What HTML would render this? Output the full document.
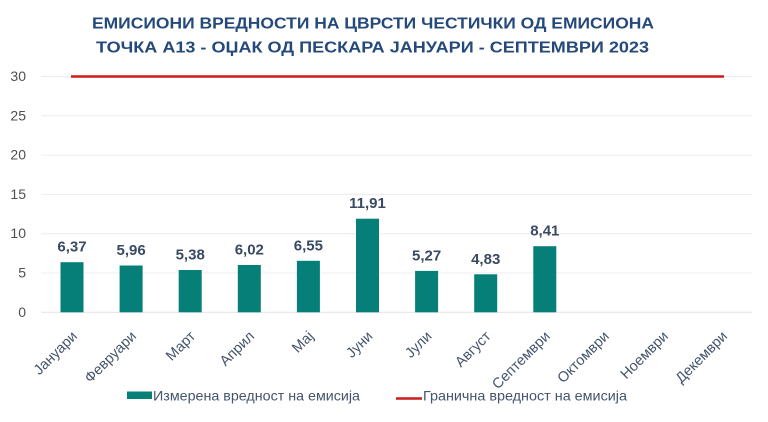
<!DOCTYPE html>
<html>
<head>
<meta charset="utf-8">
<style>
  html, body { margin: 0; padding: 0; background: #ffffff; }
  svg { display: block; }
  text { font-family: "Liberation Sans", "DejaVu Sans", sans-serif; }
</style>
</head>
<body>
<svg width="768" height="422" viewBox="0 0 768 422" xmlns="http://www.w3.org/2000/svg">
  <rect x="0" y="0" width="768" height="422" fill="#ffffff"/>

  <!-- Title -->
  <text x="373" y="28.5" text-anchor="middle" font-size="15.5" font-weight="bold" fill="#24497a" textLength="562" lengthAdjust="spacingAndGlyphs">ЕМИСИОНИ ВРЕДНОСТИ НА ЦВРСТИ ЧЕСТИЧКИ ОД ЕМИСИОНА</text>
  <text x="372.5" y="52.5" text-anchor="middle" font-size="15.5" font-weight="bold" fill="#24497a" textLength="553" lengthAdjust="spacingAndGlyphs">ТОЧКА А13 - ОЏАК ОД ПЕСКАРА ЈАНУАРИ - СЕПТЕМВРИ 2023</text>

  <!-- Gridlines -->
  <g stroke="#ececec" stroke-width="1">
    <line x1="41" y1="76.5" x2="752" y2="76.5"/>
    <line x1="41" y1="115.8" x2="752" y2="115.8"/>
    <line x1="41" y1="155.1" x2="752" y2="155.1"/>
    <line x1="41" y1="194.4" x2="752" y2="194.4"/>
    <line x1="41" y1="233.7" x2="752" y2="233.7"/>
    <line x1="41" y1="273" x2="752" y2="273"/>
  </g>
  <line x1="41" y1="312.3" x2="752" y2="312.3" stroke="#e2e2e2" stroke-width="1"/>

  <!-- Y axis labels -->
  <g font-size="14" fill="#505050" text-anchor="end">
    <text x="26" y="81">30</text>
    <text x="26" y="120.3">25</text>
    <text x="26" y="159.6">20</text>
    <text x="26" y="198.9">15</text>
    <text x="26" y="238.2">10</text>
    <text x="26" y="277.5">5</text>
    <text x="26" y="316.8">0</text>
  </g>

  <!-- Bars -->
  <g fill="#067f79">
    <rect x="60.5" y="262.2" width="23" height="50.1"/>
    <rect x="119.6" y="265.5" width="23" height="46.8"/>
    <rect x="178.7" y="270.0" width="23" height="42.3"/>
    <rect x="237.8" y="265.0" width="23" height="47.3"/>
    <rect x="296.9" y="260.8" width="23" height="51.5"/>
    <rect x="356.0" y="218.7" width="23" height="93.6"/>
    <rect x="415.1" y="270.9" width="23" height="41.4"/>
    <rect x="474.2" y="274.3" width="23" height="38.0"/>
    <rect x="533.3" y="246.2" width="23" height="66.1"/>
  </g>

  <!-- Limit line -->
  <line x1="71" y1="76.5" x2="724" y2="76.5" stroke="#cc1c1c" stroke-width="2.5"/>

  <!-- Value labels -->
  <g font-size="15" font-weight="bold" fill="#3a4a62" text-anchor="middle">
    <text x="72" y="251.7">6,37</text>
    <text x="131.1" y="255">5,96</text>
    <text x="190.2" y="259.5">5,38</text>
    <text x="249.3" y="254.5">6,02</text>
    <text x="308.4" y="250.3">6,55</text>
    <text x="367.5" y="208.2">11,91</text>
    <text x="426.6" y="260.4">5,27</text>
    <text x="485.7" y="263.8">4,83</text>
    <text x="544.8" y="235.7">8,41</text>
  </g>

  <!-- X axis labels -->
  <g font-size="14.5" fill="#44546a" text-anchor="end">
    <text transform="translate(78,337) rotate(-45)">Јануари</text>
    <text transform="translate(137.1,337) rotate(-45)">Февруари</text>
    <text transform="translate(196.2,337) rotate(-45)">Март</text>
    <text transform="translate(255.3,337) rotate(-45)">Април</text>
    <text transform="translate(314.4,337) rotate(-45)">Мај</text>
    <text transform="translate(373.5,337) rotate(-45)">Јуни</text>
    <text transform="translate(432.6,337) rotate(-45)">Јули</text>
    <text transform="translate(491.7,337) rotate(-45)">Август</text>
    <text transform="translate(550.8,337) rotate(-45)">Септември</text>
    <text transform="translate(609.9,337) rotate(-45)">Октомври</text>
    <text transform="translate(669,337) rotate(-45)">Ноември</text>
    <text transform="translate(728.1,337) rotate(-45)">Декември</text>
  </g>

  <!-- Legend -->
  <rect x="127" y="391.5" width="25" height="7.5" fill="#067f79"/>
  <text x="153" y="400.5" font-size="14" fill="#44546a" textLength="207" lengthAdjust="spacingAndGlyphs">Измерена вредност на емисија</text>
  <line x1="396" y1="398.5" x2="422" y2="398.5" stroke="#cc1c1c" stroke-width="2.5"/>
  <text x="423" y="400.5" font-size="14" fill="#44546a" textLength="204" lengthAdjust="spacingAndGlyphs">Гранична вредност на емисија</text>
</svg>
</body>
</html>
